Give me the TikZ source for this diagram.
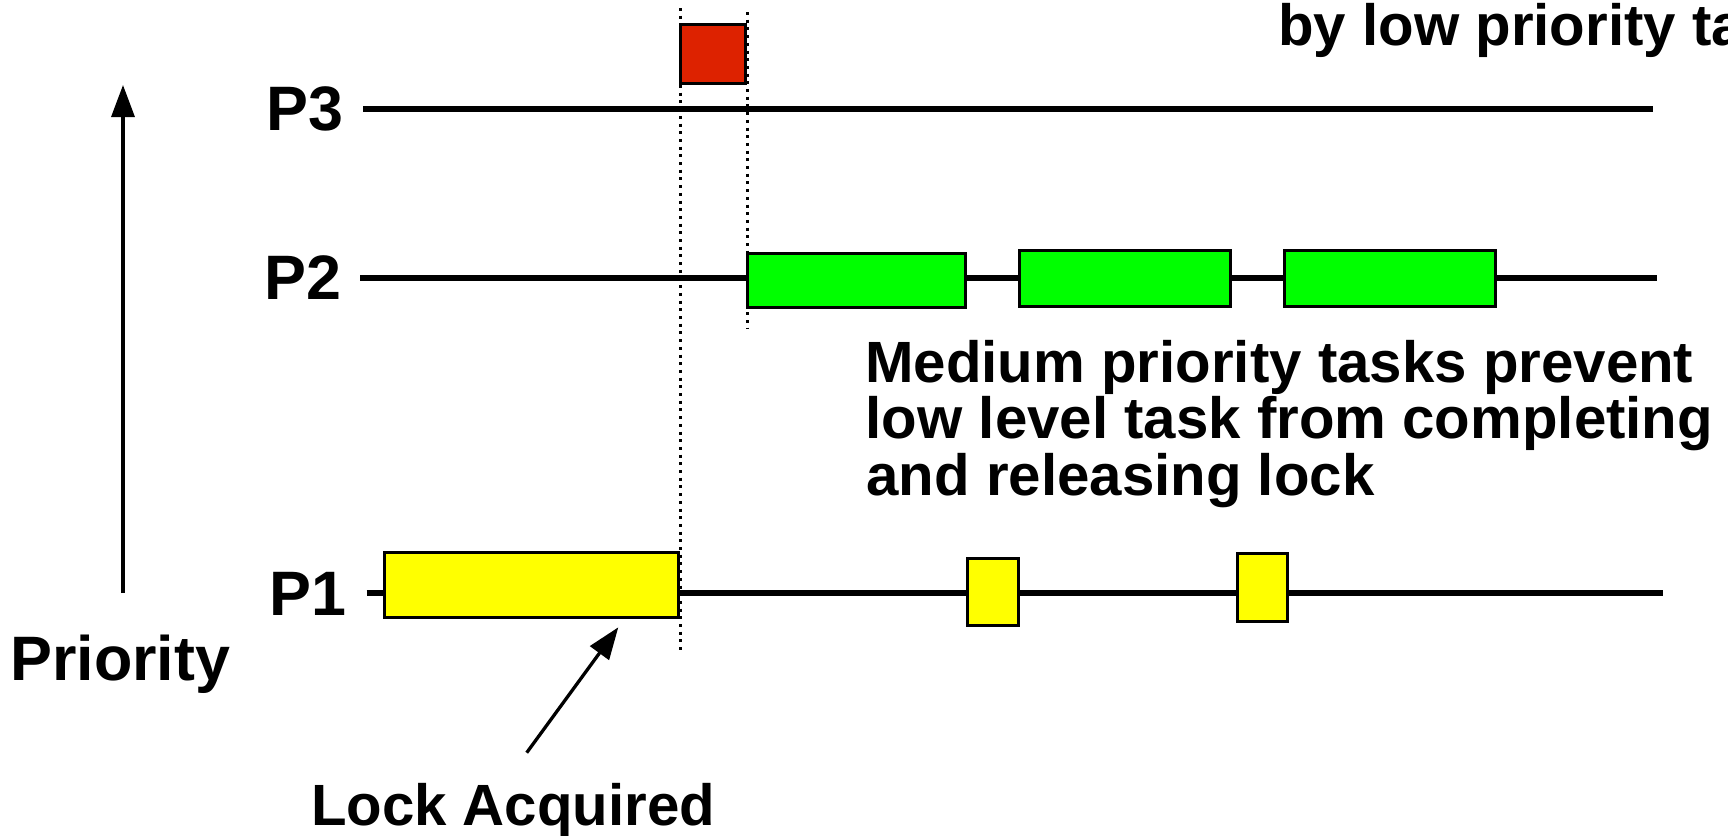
\documentclass[tikz,border=0pt]{standalone}
\usepackage{fontspec}
\setmainfont{Liberation Sans}
\usetikzlibrary{arrows.meta}

\definecolor{hiRed}{RGB}{221,34,0}
\definecolor{midGreen}{RGB}{0,255,0}
\definecolor{lowYellow}{RGB}{255,255,0}

\tikzset{
  timeline/.style={line width=6pt},
  taskbox/.style={draw, line width=3pt, inner sep=0pt, outer sep=0pt},
  marker/.style={line width=3pt, dash pattern=on 3pt off 4.7pt},
  pointer/.style={line width=3.3pt, -{Triangle[length=32pt,width=23pt]}},
  biglabel/.style={font=\fontsize{62.8}{70}\selectfont\bfseries, inner sep=0pt, anchor=base west},
  note/.style={font=\fontsize{58.2}{56}\selectfont\bfseries, inner sep=0pt, anchor=base west}
}

\begin{document}
\begin{tikzpicture}[x=1pt,y=-1pt]
  % canvas
  \clip (0,0) rectangle (1728,835);
  \fill[white] (0,0) rectangle (1728,835);

  % priority axis
  \coordinate (prioBase) at (123,593);
  \coordinate (prioTop) at (123,85);
  \draw[pointer] (prioBase) -- (prioTop);
  \node[biglabel] (prio) at (10.2,680) {Priority};

  % level labels
  \node[biglabel] (lblP3) at (266,130) {P3};
  \node[biglabel] (lblP2) at (264.5,299.3) {P2};
  \node[biglabel] (lblP1) at (269.2,615) {P1};

  % timelines
  \coordinate (t3s) at (363,109);   \coordinate (t3e) at (1653,109);
  \coordinate (t2s) at (360,277.5); \coordinate (t2e) at (1656.7,277.5);
  \coordinate (t1s) at (366.7,592.7); \coordinate (t1e) at (1663.3,592.7);
  \draw[timeline] (t3s) -- (t3e);
  \draw[timeline] (t2s) -- (t2e);
  \draw[timeline] (t1s) -- (t1e);

  % high priority task
  \node[taskbox, fill=hiRed, minimum width=65pt, minimum height=59.3pt] (high) at (713,53.9) {};

  % medium priority tasks
  \node[taskbox, fill=midGreen, minimum width=218pt, minimum height=54.6pt] (med1) at (856.2,280.5) {};
  \node[taskbox, fill=midGreen, minimum width=210.7pt, minimum height=55.7pt] (med2) at (1125.2,278.3) {};
  \node[taskbox, fill=midGreen, minimum width=211pt, minimum height=55.7pt] (med3) at (1390.3,278.3) {};

  % low priority task slices
  \node[taskbox, fill=lowYellow, minimum width=293.7pt, minimum height=65.6pt] (low1) at (531.7,585) {};
  \node[taskbox, fill=lowYellow, minimum width=51pt, minimum height=67pt] (low2) at (993,592.3) {};
  \node[taskbox, fill=lowYellow, minimum width=50.6pt, minimum height=67.4pt] (low3) at (1262.5,587.5) {};

  % markers
  \coordinate (mAtop) at (680,8);  \coordinate (mAbot) at (680,650);
  \coordinate (mBtop) at (747,12); \coordinate (mBbot) at (747,328);
  \draw[marker] (mAtop) -- (mAbot);
  \draw[marker] (mBtop) -- (mBbot);

  % annotations
  \node[note] (blocked) at (1278,45) {by low priority task};
  \node[note] (noteA) at (865.2,382.3) {Medium priority tasks prevent};
  \node[note] (noteB) at (865.5,438.3) {low level task from completing};
  \node[note] (noteC) at (866.4,495) {and releasing lock};

  \node[note] (lock) at (310.8,825) {Lock Acquired};
  \coordinate (lockTail) at (526.7,752.7);
  \coordinate (lockTip) at (618.3,627.3);
  \draw[pointer] (lockTail) -- (lockTip);
\end{tikzpicture}
\end{document}
